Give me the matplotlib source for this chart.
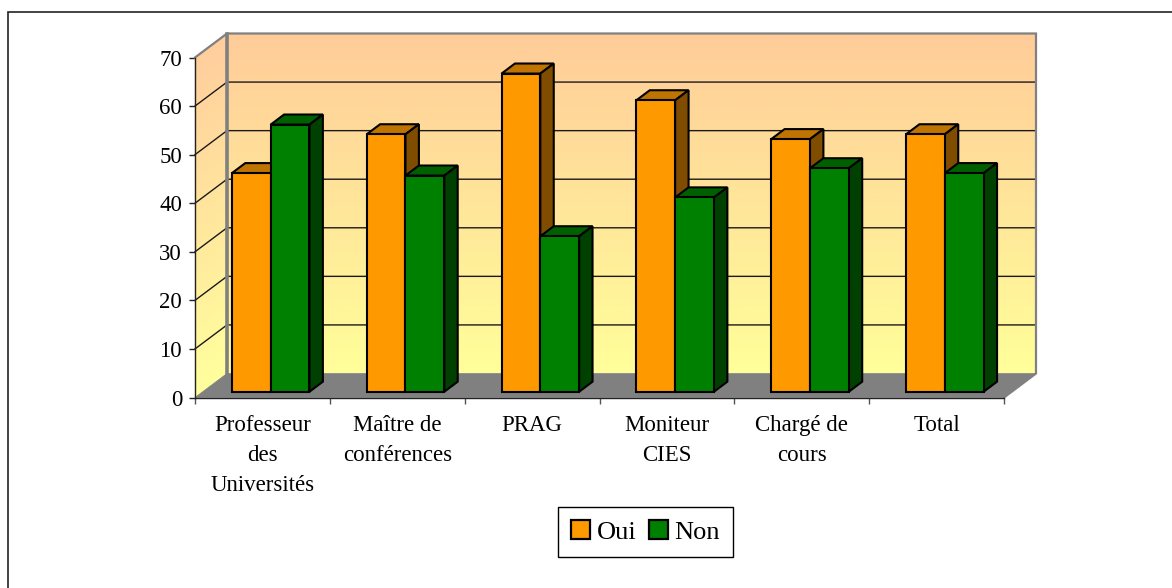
import numpy as np
import matplotlib
matplotlib.use('Agg')
import matplotlib.pyplot as plt
from matplotlib.patches import Polygon, Rectangle

plt.rcParams['font.family'] = ['Liberation Serif', 'DejaVu Serif']

# Data
categories = ['Professeur\ndes\nUniversités', 'Maître de\nconférences', 'PRAG',
              'Moniteur\nCIES', 'Chargé de\ncours', 'Total']
oui = [45, 53, 65.5, 60, 52, 53]
non = [55, 44.5, 32, 40, 46, 45]
yticks = [0, 10, 20, 30, 40, 50, 60, 70]
series_names = ['Oui', 'Non']

W, H = 1172, 588
fig = plt.figure(figsize=(W / 100, H / 100), dpi=100)

# Full figure overlay, the outer frame only shows on top and left
bg = fig.add_axes([0, 0, 1, 1])
bg.set_xlim(0, W)
bg.set_ylim(H, 0)
bg.axis('off')
bg.plot([W, 8, 8], [12, 12, H], color='#222222', lw=1.2, solid_joinstyle='miter')

# Axes = front plane of the 3D box
left, right, top, bottom = 195, 1004, 57.5, 397.5
ax = fig.add_axes([left / W, 1 - bottom / H, (right - left) / W, (bottom - top) / H])
ax.set_xlim(0, len(categories))
ax.set_ylim(0, 70)
ax.patch.set_visible(False)

# Depth vector of the box, in data units
px_x = (right - left) / len(categories)
px_y = (bottom - top) / 70
DX = 32 / px_x
DY = 24 / px_y


def proj(x, y, d):
    return (x + d * DX, y + d * DY)


def poly(pts, fc, ec='black', lw=1.5, z=3):
    ax.add_patch(Polygon(pts, closed=True, fc=fc, ec=ec, lw=lw, zorder=z,
                         clip_on=False, joinstyle='miter'))


# Wall gradient, peach on top to pale yellow at the floor
c_top = np.array([255, 204, 153]) / 255
c_bot = np.array([255, 255, 153]) / 255
frac = np.linspace(0, 1, 256).reshape(-1, 1, 1)
grad = c_top + (c_bot - c_top) * frac
x0, y0 = proj(0, 0, 1)
x1, y1 = proj(len(categories), 70, 1)
ax.imshow(grad, extent=(x0, x1, y0, y1), aspect='auto', zorder=0, clip_on=False)
ax.set_xlim(0, len(categories))
ax.set_ylim(0, 70)

# Side wall, drawn as narrow slices so the gradient follows the slant
n = 256
for i in range(n):
    a = 70 * (1 - i / n)
    b = 70 * (1 - (i + 1) / n)
    ax.add_patch(Polygon([proj(0, a, 0), proj(0, a, 1), proj(0, b, 1), proj(0, b, 0)],
                         fc=grad[i, 0], ec=grad[i, 0], lw=0.3, zorder=0.5, clip_on=False))

# Floor
poly([proj(0, 0, 0), proj(6, 0, 0), proj(6, 0, 1), proj(0, 0, 1)], '#808080', ec='#808080', lw=0.5, z=1)

# Grid lines on both walls
for v in yticks[1:-1]:
    pts = [proj(0, v, 0), proj(0, v, 1), proj(6, v, 1)]
    ax.plot(*zip(*pts), color='#1a1a1a', lw=1, zorder=1.5, clip_on=False)

# Grey wall edges
wall = [proj(0, 70, 0), proj(0, 70, 1), proj(6, 70, 1), proj(6, 0, 1), proj(6, 0, 0)]
ax.plot(*zip(*wall), color='#808080', lw=1.6, zorder=1.6, clip_on=False, solid_joinstyle='miter')
ax.plot(*zip(proj(0, 0, 1), proj(0, 70, 1)), color='#808080', lw=2.6, zorder=1.6, clip_on=False)

# Bars
BAR_W = 38.8 / px_x
GAP = (1 - 2 * BAR_W) / 2 + 0.004
D0, D1 = 0.24, 0.66
styles = [('#FF9900', '#BF7300', '#804D00'), ('#008000', '#006000', '#004000')]


def bar3d(x, v, colors, z):
    front, topc, side = colors
    x2 = x + BAR_W
    poly([proj(x, v, D0), proj(x2, v, D0), proj(x2, v, D1), proj(x, v, D1)], topc, z=z)
    poly([proj(x2, 0, D0), proj(x2, 0, D1), proj(x2, v, D1), proj(x2, v, D0)], side, z=z)
    poly([proj(x, 0, D0), proj(x2, 0, D0), proj(x2, v, D0), proj(x, v, D0)], front, z=z + 0.1)


for i in range(len(categories)):
    bar3d(i + GAP, oui[i], styles[0], 3 + i)
    bar3d(i + GAP + BAR_W, non[i], styles[1], 3.3 + i)

# Axes lines, ticks and labels
for s in ['top', 'right']:
    ax.spines[s].set_visible(False)
for s in ['left', 'bottom']:
    ax.spines[s].set_linewidth(1)
    ax.spines[s].set_zorder(2)
ax.spines['left'].set_color('#222222')
ax.spines['bottom'].set_color('#222222')
ax.set_yticks(yticks)
ax.set_xticks(range(len(categories) + 1))
ax.set_xticklabels([])
ax.tick_params(axis='y', length=4.3, width=1, color='#222222', labelsize=16.5, pad=5)
ax.tick_params(axis='x', length=4.5, width=1, color='#555555')

for i, name in enumerate(categories):
    ax.annotate(name, (i + 0.5, 0), xytext=(0, -12.5), textcoords='offset points',
                ha='center', va='top', fontsize=16.5, linespacing=1.58, annotation_clip=False)

# Legend box, built with the library's legend
handles = [Rectangle((0, 0), 1, 1, fc=styles[k][0], ec='black', lw=1.6) for k in range(2)]
leg = fig.legend(handles, series_names, loc='center', bbox_to_anchor=(645.5 / W, 1 - 532 / H),
                 ncol=2, frameon=True, fancybox=False, edgecolor='black', fontsize=19,
                 handlelength=0.72, handleheight=0.72, handletextpad=0.25, columnspacing=0.45,
                 borderpad=0.5, borderaxespad=0, framealpha=1)
leg.get_frame().set_linewidth(1)

fig.savefig('out.png', dpi=100)
